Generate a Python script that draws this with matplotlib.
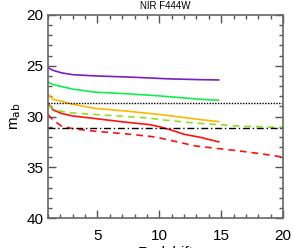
import matplotlib
matplotlib.use("Agg")
import matplotlib.pyplot as plt
from matplotlib.ticker import MultipleLocator

plt.rcParams['font.family'] = ['Liberation Sans', 'DejaVu Sans']

title = "NIR F444W"
xlabel = "Redshift"
ylabel = r"m$_{\rm ab}$"

z_short = [1.0, 1.4, 2.1, 3.0, 4.8, 7.2, 9.2, 10.0, 11.0, 12.0, 13.3, 14.8]
purple = [25.2, 25.45, 25.7, 25.88, 26.0, 26.1, 26.2, 26.25, 26.3, 26.33, 26.37, 26.4]
green = [26.6, 26.85, 27.05, 27.3, 27.6, 27.75, 27.9, 27.97, 28.07, 28.17, 28.3, 28.4]
orange = [27.8, 28.3, 28.5, 28.8, 29.2, 29.45, 29.7, 29.8, 29.95, 30.1, 30.3, 30.5]
red = [28.7, 29.35, 29.7, 29.95, 30.2, 30.55, 30.8, 31.0, 31.35, 31.75, 32.05, 32.5]

z_long = [1.0, 1.4, 2.1, 3.0, 4.8, 7.2, 9.2, 10.0, 12.9, 16.5, 18.1, 20.0]
green_dash = [28.9, 29.2, 29.5, 29.65, 29.8, 30.0, 30.15, 30.3, 30.65, 30.95, 31.0, 31.1]
red_dash = [29.8, 30.35, 30.95, 31.2, 31.45, 31.7, 31.95, 32.1, 32.9, 33.4, 33.65, 34.0]

hline_dotted = 28.65
hline_dashdot = 31.15

fig = plt.figure(figsize=(2.97, 2.48), dpi=100)
ax = fig.add_axes([48/297, 1-218/248, 235/297, 203/248])

ax.plot(z_short, purple, color='#7a1fc0', lw=1.2)
ax.plot(z_short, green, color='#10ee50', lw=1.2)
ax.plot(z_short, orange, color='#ffb800', lw=1.2)
ax.plot(z_short, red, color='#ff1010', lw=1.2)
ax.plot(z_long, green_dash, color='#90e020', lw=1.2, ls=(0, (4, 3)))
ax.plot(z_long, red_dash, color='#ff1010', lw=1.2, ls=(0, (4, 3)))
ax.axhline(hline_dotted, color='black', lw=1.0, ls=(0, (1, 1)))
ax.axhline(hline_dashdot, color='black', lw=1.0, ls=(0, (5, 2, 1, 2)))

ax.set_xlim(1, 20)
ax.set_ylim(40, 20)
ax.xaxis.set_major_locator(MultipleLocator(5))
ax.xaxis.set_minor_locator(MultipleLocator(1))
ax.yaxis.set_major_locator(MultipleLocator(5))
ax.yaxis.set_minor_locator(MultipleLocator(1))
ax.tick_params(which='both', direction='in', top=True, right=True, color='#555555', labelsize=11)
ax.tick_params(which='major', length=6, width=1)
ax.tick_params(which='minor', length=3, width=1)
ax.tick_params(axis='x', pad=8)
for s in ax.spines.values():
    s.set_color('#666666')
    s.set_linewidth(1.2)

ax.set_title(title, fontsize=7, pad=4)
ax.set_xlabel(xlabel, fontsize=11, labelpad=2)
ax.set_ylabel(ylabel, fontsize=11, labelpad=2)

fig.savefig("out.png", dpi=100)
